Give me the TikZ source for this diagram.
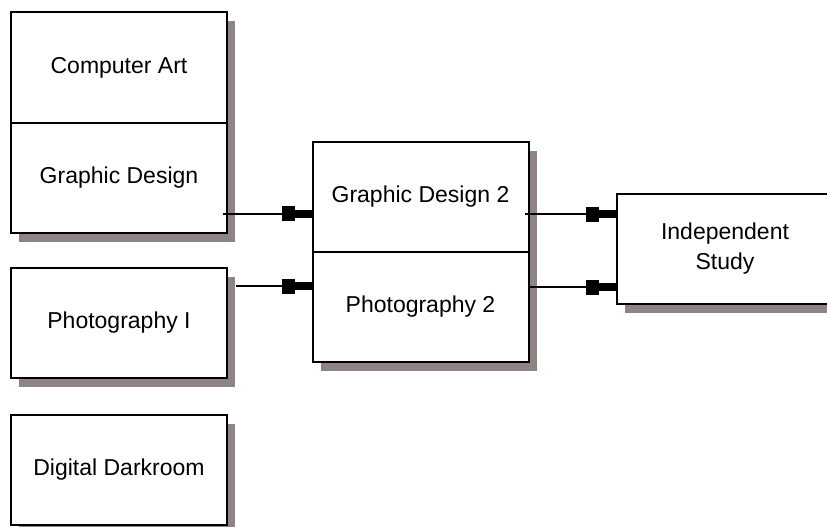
\documentclass[tikz,border=0pt]{standalone}
\usepackage{fontspec}
\setmainfont{Liberation Sans}
\usetikzlibrary{arrows.meta, positioning, shadows}
\definecolor{shadowgray}{RGB}{142,132,132}

\begin{document}
\begin{tikzpicture}[x=1pt,y=-1pt,
  course/.style={draw,line width=2pt,fill=white,minimum width=216pt,minimum height=110pt,
    outer sep=0pt,inner sep=0pt,align=center,font=\fontsize{23}{30}\selectfont,
    drop shadow={shadow xshift=8pt,shadow yshift=-9pt,fill=shadowgray,opacity=1}},
  prereq/.style={line width=2pt,
    -{Rectangle[length=13pt 0 0,width=15pt 0 0,sep=0pt]Rectangle[length=18pt 0 0,width=8pt 0 0,sep=0pt]}}]
\clip (0,0) rectangle (827,527);

% First-level courses
\node[course] (compart) at (119,67.5) {Computer Art};
\node[course,below=0pt of compart] (graphdes) {Graphic Design};
\node[course] (photoone) at (119,323) {Photography I};
\node[course] (darkroom) at (119,470) {Digital Darkroom};

% Second-level courses
\node[course] (graphdes2) at (420.5,197) {Graphic Design 2};
\node[course,below=0pt of graphdes2] (photo2) {Photography 2};

% Final course
\node[course] (indstudy) at (725,249) {Independent\\Study};

% Prerequisite arrows
\coordinate (gdout) at ([xshift=-4pt,yshift=-36pt]graphdes.east);
\coordinate (photoout) at ([xshift=9pt,yshift=37pt]photoone.east);
\coordinate (gd2out) at ([xshift=-4pt,yshift=-17pt]graphdes2.east);
\coordinate (photo2out) at ([xshift=1pt,yshift=20pt]photo2.east);
\draw[prereq] (gdout) -- (gdout -| graphdes2.west);
\draw[prereq] (photoout) -- (photoout -| graphdes2.west);
\draw[prereq] (gd2out) -- (gd2out -| indstudy.west);
\draw[prereq] (photo2out) -- (photo2out -| indstudy.west);
\end{tikzpicture}
\end{document}
